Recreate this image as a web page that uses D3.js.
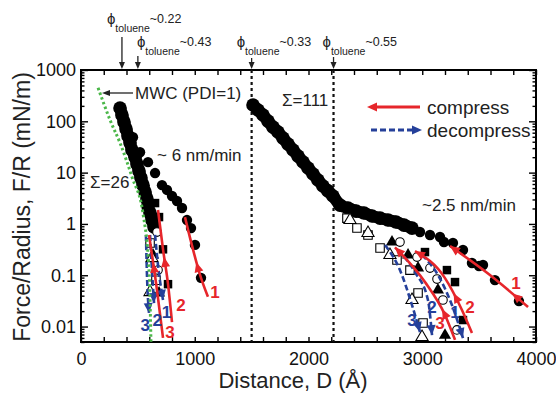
<!DOCTYPE html>
<html>
<head>
<meta charset="utf-8">
<script src="https://cdn.jsdelivr.net/npm/d3@7"></script>
<style>
  body { margin: 0; background: #fff; }
  svg { font-family: "Liberation Sans", Arial, sans-serif; }
</style>
</head>
<body>
<svg id="chart" width="556" height="396"></svg>
<script>
// values are [D (Å), F/R (mN/m)]

// dense overlapping runs (approach at ~6 and ~2.5 nm/min)
const bandLeft = [[343,182],[360,133],[378,97],[396,71],[413,52],[431,38],[448,27.6],[475,20],[492,14.7],
  [510,10.7],[527,7.9],[545,5.7],[563,4.2],[580,3.06],[589,2.23],[607,1.63],[624,1.19],[642,0.87]];
const bandRight = [[1512,208],[1556,166],[1600,133],[1644,101],[1688,77],[1732,62],[1776,47],[1820,36],
  [1864,27.6],[1908,21],[1952,16.1],[1996,12.3],[2040,9.4],[2083,7.2],[2127,5.5],[2171,4.4],[2215,3.5],
  [2277,2.33],[2347,2.04],[2418,1.78],[2488,1.63],[2558,1.43],[2629,1.30],[2699,1.19],[2769,1.09],
  [2840,0.95],[2910,0.83]];

// run 1 (filled circles), run 2 (filled squares), run 3 (filled triangles)
const circlesFilled = [[457,49],[519,25],[589,16],[651,9.8],[712,5.7],[756,4.6],[800,3.5],[844,2.8],
  [888,2.04],[932,1.19],[967,0.83],[1002,0.39],[1055,0.089],
  [2980,0.695],[3068,0.608],[3156,0.556],[3191,0.444],[3270,0.425],[3358,0.31],[3437,0.173],
  [3499,0.151],[3534,0.158],[3639,0.0805],[3850,0.0314]];
const squaresFilled = [[651,2.55],[686,1.36],[721,0.32],[765,0.067],
  [3024,0.283],[3217,0.126],[3288,0.0736],[3358,0.0134]];
const trianglesFilled = [[633,0.248],[686,0.045],
  [2734,0.444],[2875,0.248],[2963,0.138],[3138,0.0515],[3200,0.0068]];

// decompression points (open symbols)
const circlesOpen = [[668,0.695],[677,0.126],
  [2804,0.444],[2954,0.226],[3068,0.138],[3130,0.0843],[3182,0.0329],[3305,0.0086]];
const squaresOpen = [[607,0.425],[659,0.08],
  [2338,1.30],[2426,0.832],[2523,0.608],[2629,0.339],[2778,0.198],[2892,0.126],[2963,0.045],[3007,0.0117]];
const trianglesOpen = [[624,0.216],[607,0.047],
  [2365,1.19],[2523,0.665],[2716,0.248],[2910,0.0329],[2998,0.00624]];

// guide lines through the runs
const compressLines = [
  [[914,1.36],[1055,0.089],[1116,0.038]],
  [[677,1.87],[721,0.32],[765,0.067],[800,0.0122]],
  [[598,0.61],[668,0.0515],[721,0.006]],
  [[3244,0.371],[3595,0.101],[3930,0.024]],
  [[2936,0.296],[3200,0.088],[3349,0.021],[3437,0.00747]],
  [[2760,0.35],[3024,0.0736],[3200,0.0168],[3288,0.0055]]
];
const decompressLines = [
  [[651,0.61],[677,0.158],[721,0.033]],
  [[607,0.61],[624,0.126],[642,0.0287]],
  [[571,0.61],[580,0.101],[598,0.0183]],
  [[2998,0.248],[3138,0.101],[3261,0.0262],[3358,0.00597]],
  [[2787,0.31],[2936,0.115],[3050,0.0329],[3086,0.0068]],
  [[2673,0.388],[2804,0.126],[2910,0.0262],[2980,0.0078]]
];
const mwcCurve = [[150,450],[260,100],[345,37],[450,8],[545,1.6],[600,0.1],[615,0.005]];

// toluene fraction markers
const phiD = [360, 500, 1500, 2220];
const phiValues = ['~0.22', '~0.43', '~0.33', '~0.55'];
const dottedD = [1500, 2220];

const xTickValues = d3.range(0, 4001, 200);
const xTickLabels = ['0', '1000', '2000', '3000', '4000'];
const yTickValues = [0.01, 0.1, 1, 10, 100, 1000];
const yTickLabels = ['0.01', '0.1', '1', '10', '100', '1000'];

const W = 556, H = 396;
const margin = {top: 70, right: 20, bottom: 54, left: 81};
const RED = '#e6262b', BLUE = '#25409a', GREEN = '#4bb749';

const svg = d3.select('#chart');
const x = d3.scaleLinear().domain([0, 4000]).range([margin.left, W - margin.right]);
const y = d3.scaleLog().domain([0.005, 1000]).range([H - margin.bottom, margin.top]);

const yMinor = [];
[0.001, 0.01, 0.1, 1, 10, 100].forEach(d => {
  for (let k = 2; k <= 9; k++) {
    const v = d * k;
    if (v >= 0.005 && v < 1000) yMinor.push(v);
  }
});

// axes, ticks pointing inward on all four sides
function styleAxis(g) {
  g.select('.domain').remove();
  g.selectAll('line').attr('stroke', '#000').attr('stroke-width', 1.4);
  g.selectAll('text').attr('font-size', 18).attr('fill', '#111')
    .attr('font-family', '"Liberation Sans", Arial, sans-serif');
}
const xLabel = d => { const i = d % 1000 ? -1 : d / 1000; return i >= 0 ? xTickLabels[i] : ''; };

svg.append('g').attr('transform', `translate(0,${y.range()[0]})`)
  .call(d3.axisBottom(x).tickValues(xTickValues).tickSizeInner(-5).tickSizeOuter(0).tickPadding(10).tickFormat(xLabel))
  .call(styleAxis);
svg.append('g').attr('transform', `translate(0,${y.range()[1]})`)
  .call(d3.axisTop(x).tickValues(xTickValues).tickSizeInner(-5).tickSizeOuter(0).tickFormat(''))
  .call(styleAxis);
svg.append('g').attr('transform', `translate(${x.range()[0]},0)`)
  .call(d3.axisLeft(y).tickValues(yTickValues).tickSizeInner(-7).tickSizeOuter(0).tickPadding(5)
    .tickFormat((d, i) => yTickLabels[i]))
  .call(styleAxis);
svg.append('g').attr('transform', `translate(${x.range()[0]},0)`)
  .call(d3.axisLeft(y).tickValues(yMinor).tickSizeInner(-3.5).tickSizeOuter(0).tickFormat(''))
  .call(styleAxis);
svg.append('g').attr('transform', `translate(${x.range()[1]},0)`)
  .call(d3.axisRight(y).tickValues(yTickValues).tickSizeInner(-7).tickSizeOuter(0).tickFormat(''))
  .call(styleAxis);
svg.append('g').attr('transform', `translate(${x.range()[1]},0)`)
  .call(d3.axisRight(y).tickValues(yMinor).tickSizeInner(-3.5).tickSizeOuter(0).tickFormat(''))
  .call(styleAxis);

svg.append('rect')
  .attr('x', x.range()[0]).attr('y', y.range()[1])
  .attr('width', x.range()[1] - x.range()[0]).attr('height', y.range()[0] - y.range()[1])
  .attr('fill', 'none').attr('stroke', '#000').attr('stroke-width', 2);

// axis titles
svg.append('text')
  .attr('transform', `translate(30,${(y.range()[0] + y.range()[1]) / 2 + 1}) rotate(-90)`)
  .attr('text-anchor', 'middle').attr('font-size', 23).attr('fill', '#222')
  .text('Force/Radius, F/R (mN/m)');
svg.append('text')
  .attr('x', 293).attr('y', 388)
  .attr('text-anchor', 'middle').attr('font-size', 22).attr('fill', '#222')
  .text('Distance, D (Å)');

// dotted phase lines
svg.selectAll('.vline').data(dottedD).enter().append('line')
  .attr('x1', d => x(d)).attr('x2', d => x(d))
  .attr('y1', y.range()[1]).attr('y2', y.range()[0])
  .attr('stroke', '#111').attr('stroke-width', 2.2).attr('stroke-dasharray', '3,3');

const plot = svg.append('g');
const line = d3.line().x(d => x(d[0])).y(d => y(d[1])).curve(d3.curveMonotoneX);

// dense bands: thick stroke through the points plus the points themselves
[bandLeft, bandRight].forEach(b => {
  plot.append('path').attr('d', line(b)).attr('fill', 'none')
    .attr('stroke', '#000').attr('stroke-width', 12).attr('stroke-linecap', 'round');
});
plot.selectAll('.band').data(bandLeft.concat(bandRight)).enter().append('circle')
  .attr('cx', d => x(d[0])).attr('cy', d => y(d[1])).attr('r', 6.8).attr('fill', '#000');

// symbols
const sqSym = d3.symbol().type(d3.symbolSquare).size(72);
const triSym = d3.symbol().type(d3.symbolTriangle).size(64);

function drawSymbols(data, kind, open) {
  const sel = plot.selectAll(null).data(data).enter();
  let m;
  if (kind === 'circle') {
    m = sel.append('circle').attr('cx', d => x(d[0])).attr('cy', d => y(d[1])).attr('r', open ? 4.3 : 5.2);
  } else {
    m = sel.append('path').attr('d', kind === 'square' ? sqSym : triSym)
      .attr('transform', d => `translate(${x(d[0])},${y(d[1])})`);
  }
  m.attr('fill', open ? '#fff' : '#000').attr('stroke', '#000').attr('stroke-width', open ? 1.1 : 0);
}
drawSymbols(circlesFilled, 'circle', false);
drawSymbols(squaresFilled, 'square', false);
drawSymbols(trianglesFilled, 'triangle', false);
drawSymbols(circlesOpen, 'circle', true);
drawSymbols(squaresOpen, 'square', true);
drawSymbols(trianglesOpen, 'triangle', true);

// arrowhead at a fraction of a path, pointing backward (dir -1) or forward (dir 1)
function arrowOn(pathNode, frac, dir, color) {
  const L = pathNode.getTotalLength();
  const l = Math.max(1, Math.min(L - 1, L * frac));
  const p = pathNode.getPointAtLength(l);
  const a = pathNode.getPointAtLength(Math.max(0, l - 1));
  const b = pathNode.getPointAtLength(Math.min(L, l + 1));
  let ang = Math.atan2(b.y - a.y, b.x - a.x) * 180 / Math.PI;
  if (dir < 0) ang += 180;
  const tip = frac >= 1 ? pathNode.getPointAtLength(L) : (frac <= 0 ? pathNode.getPointAtLength(0) : p);
  plot.append('path')
    .attr('d', 'M0,0 L-10,-4.5 L-10,4.5 Z')
    .attr('transform', `translate(${tip.x},${tip.y}) rotate(${ang})`)
    .attr('fill', color);
}

const compressArrows = [[0.56], [0.42], [0.27], [0, 0.79], [0, 0.57], [0, 0.7]];
decompressLines.forEach(pts => {
  const p = plot.append('path').attr('d', line(pts)).attr('fill', 'none')
    .attr('stroke', BLUE).attr('stroke-width', 2.6).attr('stroke-dasharray', '6,3');
  arrowOn(p.node(), 1, 1, BLUE);
});
compressLines.forEach((pts, i) => {
  const p = plot.append('path').attr('d', line(pts)).attr('fill', 'none')
    .attr('stroke', RED).attr('stroke-width', 2.6);
  compressArrows[i].forEach(f => arrowOn(p.node(), f, -1, RED));
});

plot.append('path').attr('d', line(mwcCurve)).attr('fill', 'none')
  .attr('stroke', GREEN).attr('stroke-width', 3).attr('stroke-dasharray', '2.5,2.5');

// run numbers
const runLabels = [
  {D: 1178, F: 0.047, t: '1', c: RED}, {D: 879, F: 0.0262, t: '2', c: RED}, {D: 782, F: 0.0075, t: '3', c: RED},
  {D: 752, F: 0.0192, t: '1', c: BLUE}, {D: 670, F: 0.0134, t: '2', c: BLUE}, {D: 565, F: 0.0107, t: '3', c: BLUE},
  {D: 3824, F: 0.0705, t: '1', c: RED}, {D: 3420, F: 0.024, t: '2', c: RED}, {D: 3156, F: 0.0117, t: '3', c: RED},
  {D: 3288, F: 0.0192, t: '1', c: BLUE}, {D: 3086, F: 0.024, t: '2', c: BLUE}, {D: 2910, F: 0.0134, t: '3', c: BLUE}
];
svg.selectAll('.runlab').data(runLabels).enter().append('text')
  .attr('x', d => x(d.D)).attr('y', d => y(d.F))
  .attr('text-anchor', 'middle').attr('dominant-baseline', 'central')
  .attr('font-size', 17).attr('font-weight', 'bold').attr('fill', d => d.c)
  .text(d => d.t);

// annotations
const note = (tx, ty, s, size) => svg.append('text').attr('x', tx).attr('y', ty)
  .attr('font-size', size).attr('fill', '#222').text(s);
note(282, 106, 'Σ=111', 17);
note(90, 188, 'Σ=26', 17);
note(157, 161, '~ 6 nm/min', 17);
note(422, 211, '~2.5 nm/min', 17);
note(135, 99, 'MWC (PDI=1)', 17);
note(427, 114, 'compress', 19);
note(427, 137, 'decompress', 19);

function hArrow(x1, x2, yy, color, dashed, w) {
  svg.append('line').attr('x1', x1).attr('x2', x2 + (x2 > x1 ? -6 : 6)).attr('y1', yy).attr('y2', yy)
    .attr('stroke', color).attr('stroke-width', w).attr('stroke-dasharray', dashed ? '6,3' : null);
  const ang = x2 > x1 ? 0 : 180;
  svg.append('path').attr('d', 'M0,0 L-10,-4.5 L-10,4.5 Z')
    .attr('transform', `translate(${x2},${yy}) rotate(${ang})`).attr('fill', color);
}
hArrow(420, 367, 107, RED, false, 2.8);
hArrow(371, 422, 130, BLUE, true, 2.8);
svg.append('line').attr('x1', 133).attr('x2', 108).attr('y1', 93).attr('y2', 93)
  .attr('stroke', '#222').attr('stroke-width', 1.3);
svg.append('path').attr('d', 'M0,0 L-8,-3 L-8,3 Z')
  .attr('transform', 'translate(102,93) rotate(180)').attr('fill', '#222');

// phi labels with arrows down to the frame
const phiLayout = [
  {dx: -15, base: 24, top: 37},
  {dx: -1, base: 47, top: 56},
  {dx: -15, base: 47, top: 58},
  {dx: -11, base: 47, top: 57}
];
phiD.forEach((d, i) => {
  const px = x(d), lay = phiLayout[i];
  const t = svg.append('text').attr('x', px + lay.dx).attr('y', lay.base).attr('fill', '#222');
  t.append('tspan').attr('font-size', 15).text('ϕ');
  t.append('tspan').attr('font-size', 10.5).attr('dy', 8).text('toluene');
  t.append('tspan').attr('font-size', 12.5).attr('dy', -9).text(phiValues[i]);
  svg.append('line').attr('x1', px).attr('x2', px).attr('y1', lay.top).attr('y2', y.range()[1] - 6)
    .attr('stroke', '#222').attr('stroke-width', 1.3);
  svg.append('path').attr('d', 'M0,0 L-3,-7 L3,-7 Z')
    .attr('transform', `translate(${px},${y.range()[1] - 1})`).attr('fill', '#222');
});
</script>
</body>
</html>
